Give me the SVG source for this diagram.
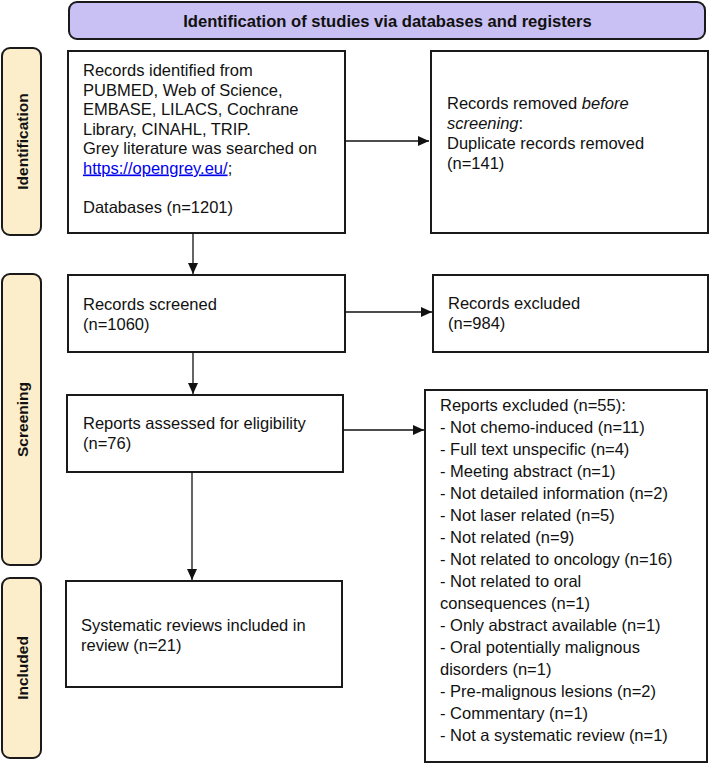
<svg xmlns="http://www.w3.org/2000/svg" width="710" height="763" viewBox="0 0 710 763">
<defs>
<marker id="ah" viewBox="0 0 11 10" refX="11" refY="5" markerWidth="11" markerHeight="10" markerUnits="userSpaceOnUse" orient="auto">
<path d="M0,0 L11,5 L0,10 Z" fill="#111"/>
</marker>
<style>
.box{fill:#fff;stroke:#1a1a1a;stroke-width:2}
.side{fill:#fdeecb;stroke:#1a1a1a;stroke-width:2}
.banner{fill:#c9c0f3;stroke:#1a1a1a;stroke-width:2}
.t{font-family:"Liberation Sans",Arial,sans-serif;font-size:16.5px;fill:#111}
.b{font-family:"Liberation Sans",Arial,sans-serif;font-size:15.5px;font-weight:bold;fill:#111}
.c{stroke:#111;stroke-width:1.3;fill:none;marker-end:url(#ah)}
</style>
</defs>
<rect width="710" height="763" fill="#fff"/>
<g id="banner">
<rect class="banner" x="69" y="2" width="636" height="37" rx="8"/>
<text class="b" x="387.5" y="26.5" text-anchor="middle" style="font-size:16.6px">Identification of studies via databases and registers</text>
</g>
<g id="label-identification">
<rect class="side" x="2" y="48" width="39" height="187" rx="8"/>
<text class="b" transform="translate(27.5,141.5) rotate(-90)" text-anchor="middle">Identification</text>
</g>
<g id="label-screening">
<rect class="side" x="2" y="274" width="39" height="291" rx="8"/>
<text class="b" transform="translate(27.5,419.5) rotate(-90)" text-anchor="middle">Screening</text>
</g>
<g id="label-included">
<rect class="side" x="2" y="578" width="39" height="180" rx="8"/>
<text class="b" transform="translate(27.5,668) rotate(-90)" text-anchor="middle">Included</text>
</g>
<g id="records-identified">
<rect class="box" x="68" y="51" width="277" height="182"/>
<text class="t">
<tspan x="83" y="76">Records identified from</tspan>
<tspan x="83" y="95.5">PUBMED, Web of Science,</tspan>
<tspan x="83" y="115">EMBASE, LILACS, Cochrane</tspan>
<tspan x="83" y="134.5">Library, CINAHL, TRIP.</tspan>
<tspan x="83" y="154">Grey literature was searched on</tspan>
<tspan x="83" y="173.5"><tspan fill="#0000ee" text-decoration="underline">https://opengrey.eu/</tspan>;</tspan>
<tspan x="83" y="212.5">Databases (n=1201)</tspan>
</text>
</g>
<g id="records-removed">
<rect class="box" x="431" y="51" width="277" height="182"/>
<text class="t">
<tspan x="447" y="109">Records removed <tspan font-style="italic">before</tspan></tspan>
<tspan x="447" y="129" font-style="italic">screening<tspan font-style="normal">:</tspan></tspan>
<tspan x="447" y="149">Duplicate records removed</tspan>
<tspan x="447" y="169">(n=141)</tspan>
</text>
</g>
<g id="records-screened">
<rect class="box" x="68" y="275" width="277" height="77"/>
<text class="t"><tspan x="83" y="310">Records screened</tspan><tspan x="83" y="330">(n=1060)</tspan></text>
</g>
<g id="records-excluded">
<rect class="box" x="433" y="275" width="275" height="77"/>
<text class="t"><tspan x="448" y="309">Records excluded</tspan><tspan x="448" y="329">(n=984)</tspan></text>
</g>
<g id="reports-assessed">
<rect class="box" x="67" y="395" width="276" height="77"/>
<text class="t"><tspan x="83" y="429">Reports assessed for eligibility</tspan><tspan x="83" y="449">(n=76)</tspan></text>
</g>
<g id="reports-excluded">
<rect class="box" x="425" y="390" width="282" height="372"/>
<text class="t">
<tspan x="440" y="411">Reports excluded (n=55):</tspan>
<tspan x="440" y="433">- Not chemo-induced (n=11)</tspan>
<tspan x="440" y="455">- Full text unspecific (n=4)</tspan>
<tspan x="440" y="477">- Meeting abstract (n=1)</tspan>
<tspan x="440" y="499">- Not detailed information (n=2)</tspan>
<tspan x="440" y="521">- Not laser related (n=5)</tspan>
<tspan x="440" y="543">- Not related (n=9)</tspan>
<tspan x="440" y="565">- Not related to oncology (n=16)</tspan>
<tspan x="440" y="587">- Not related to oral</tspan>
<tspan x="440" y="609">consequences (n=1)</tspan>
<tspan x="440" y="631">- Only abstract available (n=1)</tspan>
<tspan x="440" y="653">- Oral potentially malignous</tspan>
<tspan x="440" y="675">disorders (n=1)</tspan>
<tspan x="440" y="697">- Pre-malignous lesions (n=2)</tspan>
<tspan x="440" y="719">- Commentary (n=1)</tspan>
<tspan x="440" y="741">- Not a systematic review (n=1)</tspan>
</text>
</g>
<g id="systematic-reviews">
<rect class="box" x="66" y="581" width="276" height="106"/>
<text class="t"><tspan x="81" y="631">Systematic reviews included in</tspan><tspan x="81" y="650.5">review (n=21)</tspan></text>
</g>
<g id="connectors">
<line class="c" x1="345" y1="141" x2="429" y2="141"/>
<line class="c" x1="193" y1="233" x2="193" y2="274"/>
<line class="c" x1="345" y1="312" x2="432" y2="312"/>
<line class="c" x1="193" y1="352" x2="193" y2="394"/>
<line class="c" x1="343" y1="430" x2="424" y2="430"/>
<line class="c" x1="192" y1="472" x2="192" y2="580"/>
</g>
</svg>
